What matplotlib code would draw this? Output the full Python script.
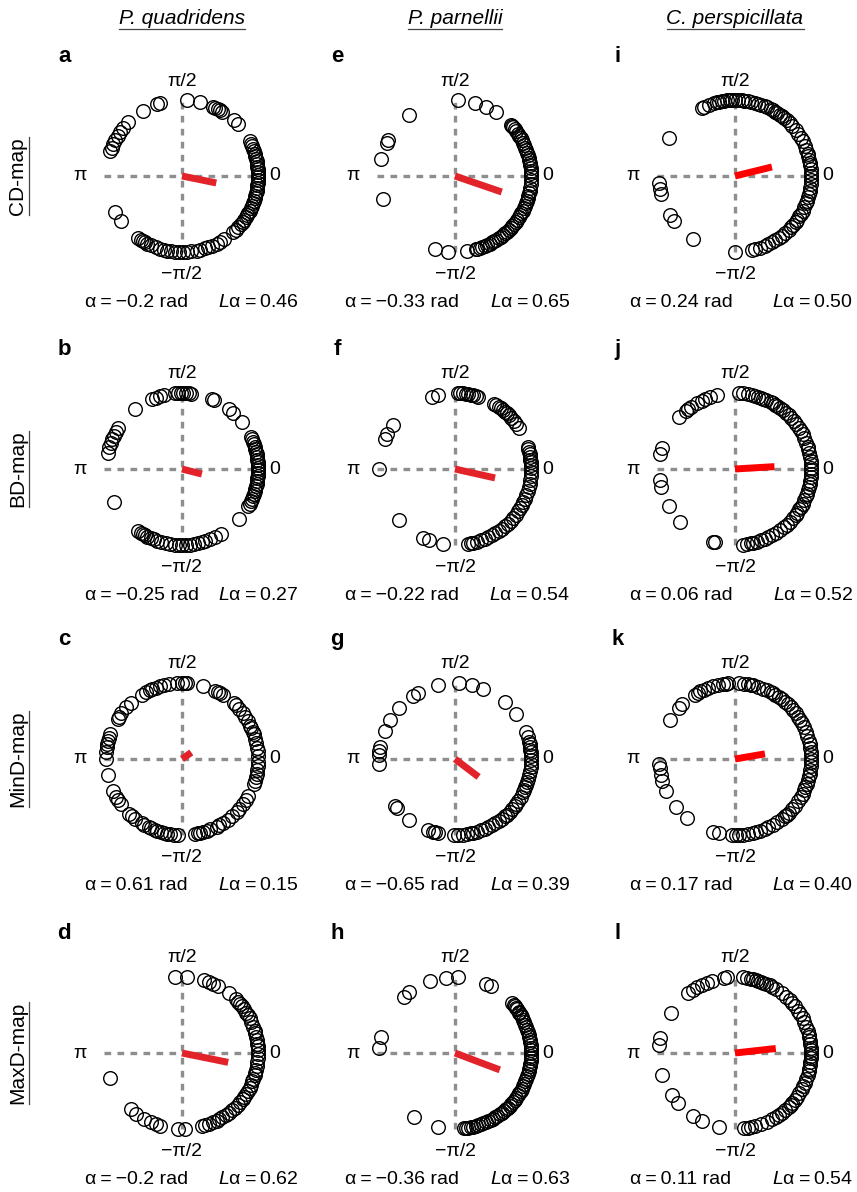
import numpy as np
import matplotlib
matplotlib.use('Agg')
import matplotlib.pyplot as plt
from matplotlib.lines import Line2D

plt.rcParams['font.family'] = ['Liberation Sans', 'DejaVu Sans']
plt.rcParams['mathtext.fontset'] = 'custom'
plt.rcParams['mathtext.it'] = 'Liberation Sans:italic'
plt.rcParams['mathtext.rm'] = 'Liberation Sans'

# Angles of individual units (degrees), one list per panel
ang_a = [86, 76, 66, 64, 62, 60, 58, 47, 43,
         27, 25, 23, 21, 19, 17, 15, 13, 11, 9, 7, 5, 3, 1, -1, -3, -5, -7, -9, -11, -13,
         -15, -17, -19, -21, -23, -25, -27, -29, -31, -33, -35, -37, -39, -42, -45, -48,
         -56, -60, -63, -67, -70, -72, -76, -79, -83, -86, -89, -92, -95, -98, -101, -104,
         -107, -110, -114, -117, -119, -121, -123, -125,
         -144, -152, 161, 158, 155, 152, 148, 145, 141, 135, 121, 109, 107]
ang_b = [89, 91, 93, 87, 85, 83, 95, 104, 107, 110, 113, 128, 67, 65, 52, 48, 38,
         25, 23, 21, 19, 17, 15, 13, 11, 9, 7, 5, 3, 1, -1, -3, -5, -7, -9, -11, -13,
         -15, -17, -19, -21, -23, -25, -27, -29, -41,
         168, 163, 160, 157, 154, 151, 147, -154,
         -125, -123, -121, -119, -117, -114, -112, -109, -106, -102, -99, -95, -92, -90,
         -87, -84, -81, -78, -75, -72, -68, -64, -59]
ang_c = [118, 115, 113, 110, 107, 104, 100, 94, 90, 88, 86, 74, 64, 62, 60, 57, 47, 45,
         41, 37, 34, 30, 26, 24, 21, 19, 15, 12, 8, 6, 2, -2, -5, -8, -11, -14, -17, -19,
         -29, -33, -36, -41, -44, -49, -53, -57, -61, -63, -68, -71, -74, -76, -78, -80,
         -93, -96, -99, -101, -104, -106, -109, -111, -114, -116, -120, -122, -128, -131,
         -134, -144, -147, -150, -155, -168, 180, 175, 171, 169, 166, 164, 161, 148, 146,
         143, 137, 132, 122]
ang_d = [95, 86, 73, 69, 66, 62, 52, 45, 42, 40, 38, 35, 32, 30, 27, 24, 20, 17, 15, 12,
         10, 7, 5, 2, -1, -4, -7, -10, -13, -15, -17, -20, -22, -25, -27, -30, -33, -35,
         -37, -40, -43, -46, -49, -52, -55, -58, -61, -63, -66, -69, -72, -75, -88, -93,
         -107, -110, -114, -120, -127, -132, -161]
ang_e = [88, 75, 66, 57, 42, 41, 40, 38, 36, 34, 32, 30, 28, 26, 24, 22, 20, 18, 16, 14,
         12, 10, 8, 6, 4, 2, 0, -3, -6, -9, -11, -13, -15, -17, -19, -21, -23, -25, -27,
         -29, -31, -33, -35, -37, -39, -41, -43, -45, -47, -49, -51, -53, -55, -57, -59,
         -61, -63, -65, -67, -69, -71, -73, -74, -81, -95, -105, -162, 167, 154, 152, 127]
ang_f = [108, 103, 88, 86, 84, 82, 80, 78, 76, 74, 72, 59, 57, 55, 53, 51, 49, 47, 45, 42,
         39, 36, 33, 17, 15, 13, 11, 9, 7, 5, 3, 1, -2, -5, -8, -11, -14, -17, -20, -23,
         -26, -28, -31, -34, -37, -40, -43, -46, -49, -52, -55, -58, -61, -64, -67, -70,
         -73, -76, -78, -80, -99, -110, -115, -138, 180, 157, 153, 145]
ang_g = [87, 103, 119, 124, 138, 149, 158, 171, 174, 177, -176, 77, 68, 49, 36, 21, 17,
         13, 11, 9, 7, 5, 2, -1, -4, -6, -9, -12, -15, -18, -20, -22, -24, -26, -30, -34,
         -36, -38, -41, -44, -47, -49, -52, -55, -58, -61, -64, -67, -70, -73, -76, -78,
         -81, -84, -88, -91, -103, -105, -107, -111, -127, -140, -142]
ang_h = [132, 127, 109, 97, 88, 66, 62, 41, 39, 38, 36, 35, 33, 32, 30, 28, 26, 24, 22,
         20, 18, 16, 14, 12, 10, 8, 6, 4, 2, 0, -2, -4, -6, -8, -10, -12, -14, -16, -18,
         -20, -22, -24, -26, -28, -30, -32, -34, -36, -38, -40, -42, -44, -46, -48, -50,
         -52, -54, -56, -58, -60, -62, -64, -66, -68, -70, -72, -74, -76, -78, -80, -82,
         -83, -103, -123, 168, 176]
ang_i = [116, 114, 110, 106, 104, 102, 100, 98, 96, 94, 92, 90, 88, 85, 83, 80, 78, 75,
         72, 70, 67, 65, 62, 60, 58, 56, 54, 52, 50, 47, 44, 41, 37, 34, 30, 27, 23, 20,
         17, 15, 12, 10, 8, 5, 2, 0, -3, -6, -9, -11, -14, -16, -19, -21, -24, -27, -30,
         -32, -35, -37, -40, -42, -45, -49, -52, -55, -58, -61, -64, -67, -71, -75, -77,
         -90, 150, -175, -170, -166, -149, -144, -124]
ang_j = [137, 130, 128, 125, 120, 116, 113, 109, 104, 87, 84, 80, 77, 75, 72, 70, 68, 66,
         62, 60, 58, 56, 54, 51, 48, 45, 42, 39, 36, 33, 30, 27, 24, 20, 17, 15, 12, 9, 6,
         4, 1, -1, -4, -6, -9, -11, -14, -16, -19, -21, -24, -27, -30, -32, -35, -37, -40,
         -44, -47, -50, -54, -57, -61, -64, -67, -70, -73, -76, -78, -81, -84, -105, -107,
         164, 169, -172, -166, -151, -136]
ang_k = [149, 138, 134, 122, 119, 117, 114, 111, 107, 103, 99, 97, 95, 87, 83, 80, 78, 76,
         72, 68, 65, 62, 60, 58, 55, 52, 49, 46, 43, 40, 37, 34, 31, 28, 25, 21, 18, 14,
         11, 8, 5, 3, 0, -2, -5, -8, -11, -13, -16, -19, -22, -24, -27, -30, -34, -38,
         -41, -45, -47, -49, -52, -56, -60, -64, -67, -71, -74, -76, -80, -84, -87, -89,
         -92, -102, -107, -173, -176, -168, -163, -155, -141, -129]
ang_l = [148, 128, 124, 120, 116, 112, 108, 98, 96, 84, 81, 78, 76, 74, 72, 70, 68, 66,
         63, 61, 57, 52, 48, 44, 41, 38, 34, 31, 27, 24, 20, 17, 14, 12, 9, 7, 4, 2, 0,
         -2, -4, -7, -9, -12, -14, -17, -20, -23, -26, -28, -32, -35, -38, -41, -43, -45,
         -49, -52, -55, -57, -61, -65, -70, -75, -78, -80, -83, -102, -116, -124, -139,
         -146, -163, 174, 169]

# Mean direction (rad) and vector length per panel, a..l
alpha = [-0.2, -0.25, 0.61, -0.2, -0.33, -0.22, -0.65, -0.36, 0.24, 0.06, 0.17, 0.11]
Lvec = [0.46, 0.27, 0.15, 0.62, 0.65, 0.54, 0.39, 0.63, 0.50, 0.52, 0.40, 0.54]

species = ['P. quadridens', 'P. parnellii', 'C. perspicillata']
maps = ['CD-map', 'BD-map', 'MinD-map', 'MaxD-map']
letters = list('abcdefghijkl')
panels = [ang_a, ang_b, ang_c, ang_d, ang_e, ang_f, ang_g, ang_h, ang_i, ang_j, ang_k, ang_l]

W, H = 857, 1192
fig = plt.figure(figsize=(W / 100, H / 100), dpi=100)

col_x = [182, 455, 735]
row_y = [176, 469, 759, 1053]
left_off = [-97, -110, -105]   # px offset of the alpha text start
right_off = [116, 115, 118]    # px offset of the L text end
scale = 76.0      # pixels per unit radius
half = 1.75       # axes half-extent in data units
red_cols = ['#e3232a', '#e3232a', '#ff0000']
gray = '#8e8e8e'
ts = 2009  # thin space code point
thin = chr(0x2009)

for col in range(3):
    for row in range(4):
        idx = col * 4 + row
        cx, cy = col_x[col], row_y[row]
        hp = half * scale
        ax = fig.add_axes([(cx - hp) / W, 1 - (cy + hp) / H, 2 * hp / W, 2 * hp / H])
        ax.set_xlim(-half, half)
        ax.set_ylim(-half, half)
        ax.axis('off')

        ax.plot([-1.02, 1.02], [0, 0], color=gray, lw=2.4, ls=(0, (2.0, 1.9)), zorder=1)
        ax.plot([0, 0], [-1.0, 1.0], color=gray, lw=2.4, ls=(0, (2.0, 1.9)), zorder=1)

        th = np.deg2rad(panels[idx])
        ax.plot(np.cos(th), np.sin(th), 'o', ms=9.8, mfc='none', mec='black', mew=1.0,
                zorder=3, clip_on=False)

        a, L = alpha[idx], Lvec[idx]
        ax.plot([0, L * np.cos(a)], [0, L * np.sin(a)], color=red_cols[col], lw=5,
                solid_capstyle='butt', zorder=4)

        ax.text(0, 1.25, 'π/2', ha='center', va='center', fontsize=14)
        ax.text(0, -1.30, '−π/2', ha='center', va='center', fontsize=14)
        ax.text(-1.34, 0, 'π', ha='center', va='center', fontsize=14)
        ax.text(1.22, 0, '0', ha='center', va='center', fontsize=14)

        astr = f'{a:g}'.replace('-', '−')
        ax.text(left_off[col] / scale, -1.66, f'α{thin}={thin}{astr} rad', ha='left',
                va='center', fontsize=14)
        ax.text(right_off[col] / scale, -1.66, r'$\mathit{L}$' + f'α{thin}={thin}{L:.2f}',
                ha='right', va='center', fontsize=14)
        ax.text(-1.55, 1.57, letters[idx], ha='center', va='center', fontsize=16,
                fontweight='bold')

titles = []
for col, sp in enumerate(species):
    t = fig.text(col_x[col] / W, 1 - 18 / H, sp, ha='center', va='center',
                 fontsize=15, style='italic')
    titles.append(t)
rlabels = []
for row, m in enumerate(maps):
    t = fig.text(18 / W, 1 - row_y[row] / H, m, ha='center', va='center',
                 fontsize=15, rotation=90)
    rlabels.append(t)

# underline column titles and row labels
fig.canvas.draw()
r = fig.canvas.get_renderer()
for t in titles:
    bb = t.get_window_extent(r)
    y = bb.y0 - 1
    fig.add_artist(Line2D([bb.x0 / W, bb.x1 / W], [y / H, y / H], color='#444444', lw=0.9))
for t in rlabels:
    bb = t.get_window_extent(r)
    x = bb.x1 + 1
    fig.add_artist(Line2D([x / W, x / W], [bb.y0 / H, bb.y1 / H], color='#444444', lw=0.9))

fig.savefig('out.png', dpi=100)
